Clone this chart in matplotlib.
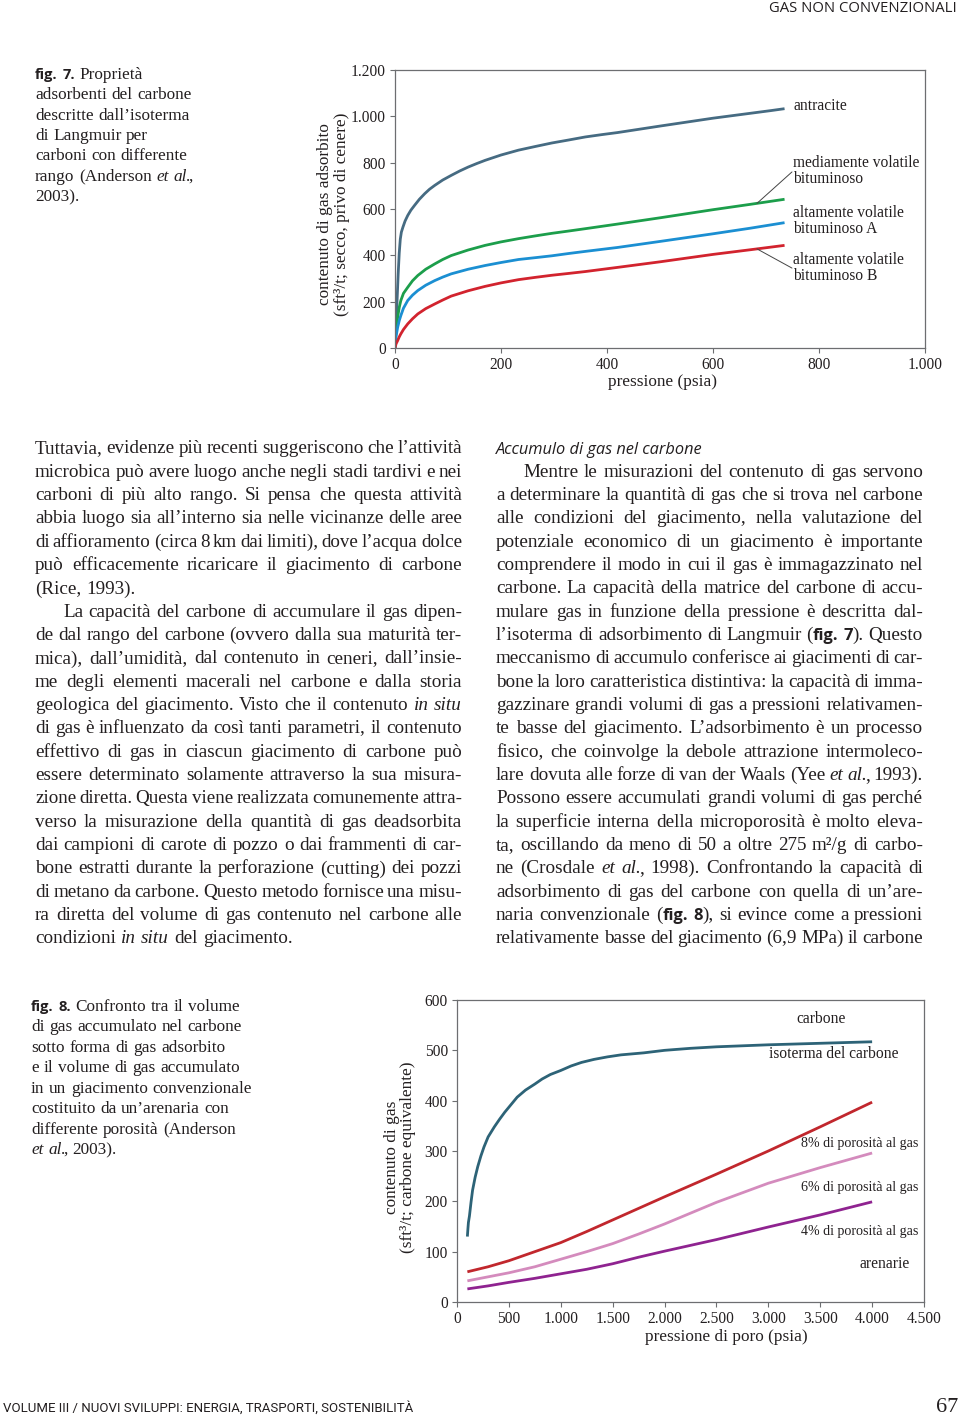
import matplotlib
matplotlib.use('Agg')
import numpy as np
import matplotlib.pyplot as plt

W, H = 960, 1416
SERIF = 'Liberation Serif'
SANS = 'Open Sans'
INK = '#231f20'
GREY = '#6d6e71'

plt.rcParams['font.family'] = [SERIF, 'DejaVu Serif']

# ---- fig. 7: isoterme di Langmuir
press_antr = [0, 2, 4, 6, 8, 10, 12, 15, 19, 24, 30, 37, 46, 56, 65, 75, 90, 106, 122, 138, 154,
              170, 200, 233, 265, 296, 328, 359, 390, 420, 460, 500, 550, 600, 640, 680, 710, 735]
antracite = [0, 100, 210, 320, 410, 470, 500, 522, 548, 572, 595, 616, 642, 666, 685, 702, 725, 745,
             764, 781, 796, 810, 833, 854, 870, 885, 898, 911, 921, 930, 944, 958, 975, 992, 1004,
             1016, 1025, 1033]

press_bit = [0, 2, 5, 8, 11, 16, 24, 33, 43, 58, 75, 90, 106, 138, 170, 200, 233, 265, 296, 328,
             359, 420, 500, 600, 670, 735]
medio_volatile = [0, 75, 133, 175, 205, 236, 262, 290, 313, 340, 363, 382, 399, 423, 443, 458, 472,
                  484, 495, 505, 515, 535, 562, 597, 620, 642]
alto_volatile_a = [0, 50, 89, 118, 140, 172, 205, 228, 248, 271, 291, 306, 320, 340, 356, 369, 382,
                   390, 398, 408, 417, 434, 460, 493, 517, 541]
alto_volatile_b = [0, 18, 32, 48, 61, 80, 104, 126, 147, 170, 190, 207, 224, 247, 266, 281, 295,
                   305, 314, 322, 330, 348, 372, 404, 424, 443]

x1_ticks = [0, 200, 400, 600, 800, 1000]
x1_labels = ['0', '200', '400', '600', '800', '1.000']
y1_ticks = [0, 200, 400, 600, 800, 1000, 1200]
y1_labels = ['0', '200', '400', '600', '800', '1.000', '1.200']

# ---- fig. 8: carbone vs arenarie
press_carb = [100, 105, 110, 120, 135, 150, 175, 200, 230, 260, 300, 360, 410, 460, 520, 580, 660,
              750, 820, 900, 1000, 1100, 1200, 1320, 1450, 1580, 1800, 2000, 2250, 2500, 3000,
              3500, 4000]
carbone = [130, 145, 158, 171, 198, 222, 248, 269, 290, 308, 328, 348, 363, 377, 392, 407, 421,
           433, 443, 452, 460, 469, 476, 482, 487, 491, 495, 500, 504, 507, 511, 514, 517]

press_aren = [100, 300, 500, 750, 1000, 1250, 1500, 1750, 2000, 2500, 3000, 3500, 4000]
poros_8 = [60, 70, 82, 100, 118, 140, 163, 186, 209, 254, 300, 348, 397]
poros_6 = [42, 50, 58, 70, 85, 100, 116, 135, 155, 198, 236, 267, 296]
poros_4 = [26, 32, 39, 47, 56, 65, 76, 89, 101, 124, 149, 173, 199]

x2_ticks = [0, 500, 1000, 1500, 2000, 2500, 3000, 3500, 4000, 4500]
x2_labels = ['0', '500', '1.000', '1.500', '2.000', '2.500', '3.000', '3.500', '4.000', '4.500']
y2_ticks = [0, 100, 200, 300, 400, 500, 600]
y2_labels = ['0', '100', '200', '300', '400', '500', '600']

# ---- testo della pagina
caption7 = ['^fig. 7.^ Proprietà',
            'adsorbenti del carbone',
            'descritte dall’isoterma',
            'di Langmuir per',
            'carboni con differente',
            'rango (Anderson _et al._,',
            '2003).']
caption8 = ['^fig. 8.^ Confronto tra il volume',
            'di gas accumulato nel carbone',
            'sotto forma di gas adsorbito',
            'e il volume di gas accumulato',
            'in un giacimento convenzionale',
            'costituito da un’arenaria con',
            'differente porosità (Anderson',
            '_et al._, 2003).']
col_left = ['Tuttavia, evidenze più recenti suggeriscono che l’attività',
            'microbica può avere luogo anche negli stadi tardivi e nei',
            'carboni di più alto rango. Si pensa che questa attività',
            'abbia luogo sia all’interno sia nelle vicinanze delle aree',
            'di affioramento (circa 8 km dai limiti), dove l’acqua dolce',
            'può efficacemente ricaricare il giacimento di carbone',
            '(Rice, 1993).',
            'La capacità del carbone di accumulare il gas dipen-',
            'de dal rango del carbone (ovvero dalla sua maturità ter-',
            'mica), dall’umidità, dal contenuto in ceneri, dall’insie-',
            'me degli elementi macerali nel carbone e dalla storia',
            'geologica del giacimento. Visto che il contenuto _in situ_',
            'di gas è influenzato da così tanti parametri, il contenuto',
            'effettivo di gas in ciascun giacimento di carbone può',
            'essere determinato solamente attraverso la sua misura-',
            'zione diretta. Questa viene realizzata comunemente attra-',
            'verso la misurazione della quantità di gas deadsorbita',
            'dai campioni di carote di pozzo o dai frammenti di car-',
            'bone estratti durante la perforazione (cutting) dei pozzi',
            'di metano da carbone. Questo metodo fornisce una misu-',
            'ra diretta del volume di gas contenuto nel carbone alle',
            'condizioni _in situ_ del giacimento.']
col_right = ['Mentre le misurazioni del contenuto di gas servono',
             'a determinare la quantità di gas che si trova nel carbone',
             'alle condizioni del giacimento, nella valutazione del',
             'potenziale economico di un giacimento è importante',
             'comprendere il modo in cui il gas è immagazzinato nel',
             'carbone. La capacità della matrice del carbone di accu-',
             'mulare gas in funzione della pressione è descritta dal-',
             'l’isoterma di adsorbimento di Langmuir (^fig. 7^). Questo',
             'meccanismo di accumulo conferisce ai giacimenti di car-',
             'bone la loro caratteristica distintiva: la capacità di imma-',
             'gazzinare grandi volumi di gas a pressioni relativamen-',
             'te basse del giacimento. L’adsorbimento è un processo',
             'fisico, che coinvolge la debole attrazione intermoleco-',
             'lare dovuta alle forze di van der Waals (Yee _et al._, 1993).',
             'Possono essere accumulati grandi volumi di gas perché',
             'la superficie interna della microporosità è molto eleva-',
             'ta, oscillando da meno di 50 a oltre 275 m²/g di carbo-',
             'ne (Crosdale _et al._, 1998). Confrontando la capacità di',
             'adsorbimento di gas del carbone con quella di un’are-',
             'naria convenzionale (^fig. 8^), si evince come a pressioni',
             'relativamente basse del giacimento (6,9 MPa) il carbone']

fig = plt.figure(figsize=(W / 100, H / 100), dpi=100)
renderer = fig.canvas.get_renderer()


def draw_line(line, x0, x1, base_y, size, justify, indent=0):
    # '_' switches italic, '^' switches bold sans
    words = []
    it = bd = False
    for w in line.split(' '):
        parts, cur = [], ''
        for ch in w:
            if ch in '_^':
                if cur:
                    parts.append((cur, it, bd))
                    cur = ''
                if ch == '_':
                    it = not it
                else:
                    bd = not bd
            else:
                cur += ch
        if cur:
            parts.append((cur, it, bd))
        if parts:
            words.append(parts)
    texts = []
    for parts in words:
        ts = []
        for s, i, b in parts:
            if b:
                t = fig.text(0, 1 - base_y / H, s, family=SANS, weight='bold',
                             fontsize=size * 0.86, va='baseline', color=INK)
            else:
                t = fig.text(0, 1 - base_y / H, s, family=SERIF,
                             style='italic' if i else 'normal',
                             fontsize=size, va='baseline', color=INK)
            ts.append((t, i and not b))
        texts.append(ts)

    def measure():
        out = []
        for ts in texts:
            ws = []
            for j, (t, ital) in enumerate(ts):
                w = t.get_window_extent(renderer).width
                if ital and j < len(ts) - 1:
                    w -= 2.5  # italic overhang before roman punctuation
                ws.append(w)
            out.append(ws)
        return out

    wd = measure()
    em = size * 100 / 72
    avail = x1 - x0 - indent
    tot = sum(sum(w) for w in wd)
    n = len(texts)
    if justify and n > 1:
        need = tot + (n - 1) * 0.17 * em
        if need > avail:
            f = avail / need
            for ts in texts:
                for t, _ in ts:
                    t.set_fontsize(t.get_fontsize() * f)
            wd = measure()
            tot = sum(sum(w) for w in wd)
        gap = (avail - tot) / (n - 1)
    else:
        gap = 0.27 * em
    x = x0 + indent
    for ts, ws in zip(texts, wd):
        for (t, _), w in zip(ts, ws):
            t.set_x(x / W)
            x += w
        x += gap


# caption blocks
for k, line in enumerate(caption7):
    draw_line(line, 35, 330, 79 + k * 20.33, 12.4, False)
for k, line in enumerate(caption8):
    draw_line(line, 31, 330, 1011 + k * 20.43, 12.4, False)

# body columns
for k, line in enumerate(col_left):
    last = k in (6, 21)
    draw_line(line, 35, 462, 453.5 + k * 23.33, 13.8, not last, indent=28 if k == 7 else 0)
fig.text(496 / W, 1 - 454 / H, 'Accumulo di gas nel carbone', family=SANS,
         style='italic', fontsize=11.8, va='baseline', color=INK)
for k, line in enumerate(col_right):
    draw_line(line, 496, 923, 476.8 + k * 23.33, 13.8, True, indent=27 if k == 0 else 0)

# header / footer
fig.text(957 / W, 1 - 12 / H, 'GAS NON CONVENZIONALI', family=SANS, fontsize=10.7,
         ha='right', va='baseline', color=INK)
fig.text(3 / W, 1 - 1412 / H, 'VOLUME III / NUOVI SVILUPPI: ENERGIA, TRASPORTI, SOSTENIBILITÀ',
         family='Roboto', fontsize=9.5, ha='left', va='baseline', color=INK)
fig.text(958 / W, 1 - 1412 / H, '67', fontsize=16, ha='right', va='baseline', color=INK)


def style(ax):
    for s in ax.spines.values():
        s.set_color(GREY)
        s.set_linewidth(0.9)
    ax.tick_params(direction='out', length=3.5, width=0.8, color=GREY, pad=3,
                   labelsize=11.2, labelcolor=INK)


line_kw = dict(lw=2.0, solid_capstyle='butt', solid_joinstyle='round')

# ---- fig. 7
ax1 = fig.add_axes([395 / W, 1 - 348 / H, 530 / W, 278 / H])
ax1.plot(press_antr, antracite, color='#466b82', **line_kw)
ax1.plot(press_bit, medio_volatile, color='#1c9e4b', **line_kw)
ax1.plot(press_bit, alto_volatile_a, color='#1b8fd2', **line_kw)
ax1.plot(press_bit, alto_volatile_b, color='#d2232e', **line_kw)
ax1.set_xlim(0, 1000)
ax1.set_ylim(0, 1200)
ax1.set_xticks(x1_ticks, x1_labels)
ax1.set_yticks(y1_ticks, y1_labels)
style(ax1)
lab_kw = dict(fontsize=11.2, color=INK, va='center', ha='left', linespacing=1.0)
ax1.text(751, 1044, 'antracite', **lab_kw)
ax1.text(751, 764, 'mediamente volatile\nbituminoso', **lab_kw)
ax1.text(751, 547, 'altamente volatile\nbituminoso A', **lab_kw)
ax1.text(751, 345, 'altamente volatile\nbituminoso B', **lab_kw)
p_lead = 683
ax1.annotate('', xy=(p_lead, np.interp(p_lead, press_bit, medio_volatile)), xytext=(749, 760),
             arrowprops=dict(arrowstyle='-', color='#444444', lw=0.7, shrinkA=0, shrinkB=0))
ax1.annotate('', xy=(p_lead, np.interp(p_lead, press_bit, alto_volatile_b)), xytext=(749, 345),
             arrowprops=dict(arrowstyle='-', color='#444444', lw=0.7, shrinkA=0, shrinkB=0))
fig.text(325 / W, 1 - 214 / H, 'contenuto di gas adsorbito', rotation=90, fontsize=12.4,
         ha='center', va='center', color=INK)
fig.text(342 / W, 1 - 214 / H, '(sft³/t; secco, privo di cenere)', rotation=90, fontsize=12.4,
         ha='center', va='center', color=INK)
fig.text(662 / W, 1 - 382 / H, 'pressione (psia)', fontsize=12.4, ha='center', va='center', color=INK)

# ---- fig. 8
ax2 = fig.add_axes([457 / W, 1 - 1302 / H, 467 / W, 302 / H])
ax2.plot(press_carb, carbone, color='#2d6377', **line_kw)
ax2.plot(press_aren, poros_8, color='#c1272d', **line_kw)
ax2.plot(press_aren, poros_6, color='#d48bbd', **line_kw)
ax2.plot(press_aren, poros_4, color='#8f2390', **line_kw)
ax2.set_xlim(0, 4500)
ax2.set_ylim(0, 600)
ax2.set_xticks(x2_ticks, x2_labels)
ax2.set_yticks(y2_ticks, y2_labels)
style(ax2)
ax2.text(3507, 562, 'carbone', fontsize=11.2, color=INK, ha='center', va='center')
ax2.text(3632, 493, 'isoterma del carbone', fontsize=11.2, color=INK, ha='center', va='center')
ax2.text(3314, 314, '8% di porosità al gas', fontsize=10.1, color=INK, ha='left', va='center')
ax2.text(3314, 228, '6% di porosità al gas', fontsize=10.1, color=INK, ha='left', va='center')
ax2.text(3314, 141, '4% di porosità al gas', fontsize=10.1, color=INK, ha='left', va='center')
ax2.text(4123, 75, 'arenarie', fontsize=11.2, color=INK, ha='center', va='center')
fig.text(392 / W, 1 - 1157 / H, 'contenuto di gas', rotation=90, fontsize=12.4,
         ha='center', va='center', color=INK)
fig.text(408 / W, 1 - 1157 / H, '(sft³/t; carbone equivalente)', rotation=90, fontsize=12.4,
         ha='center', va='center', color=INK)
fig.text(726 / W, 1 - 1337 / H, 'pressione di poro (psia)', fontsize=12.4, ha='center',
         va='center', color=INK)

fig.savefig('out.png', dpi=100)
